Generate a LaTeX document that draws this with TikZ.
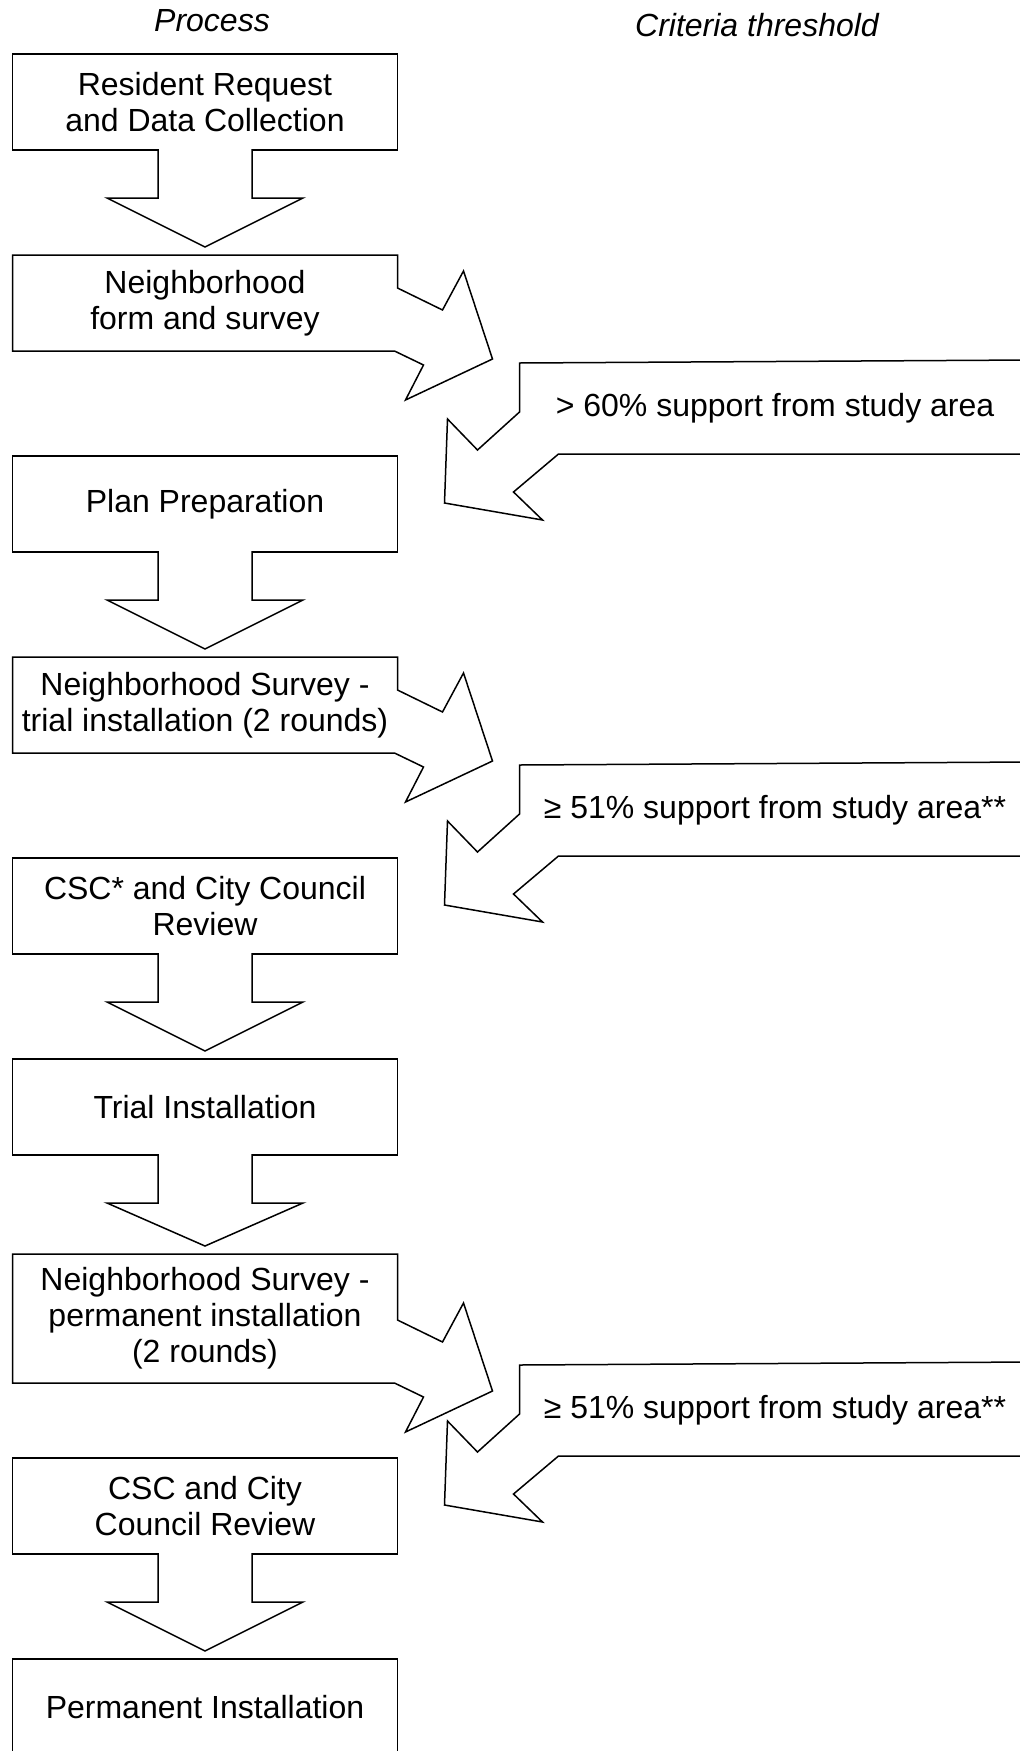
\documentclass[tikz,border=0pt]{standalone}
\usepackage{fontspec}
\setmainfont{Liberation Sans}
\usetikzlibrary{positioning,calc}

\newcommand{\boxfont}{\fontsize{32}{36}\selectfont}

\begin{document}
\begin{tikzpicture}[
            x=1pt, y=-1pt,
            node distance=105pt,
            block/.style={rectangle, draw, line width=1.5pt, minimum width=385pt, minimum height=96pt, align=center, inner sep=0pt, outer sep=0pt, font=\boxfont},
            bentblock/.style={block, draw=none},
            crit/.style={minimum width=511pt, minimum height=91pt, inner sep=0pt, outer sep=0pt, font=\boxfont},
            header/.style={anchor=base, font=\boxfont\itshape},
            outline/.style={line width=1.5pt, line join=miter},
            downarrow/.style={outline, fill=white}
        ]
            \useasboundingbox (0,0) rectangle (1020,1751);

            \node[header] (process) at (212,31) {Process};
            \node[header] (threshold) at (757,36) {Criteria threshold};

            \node[block] (request) at (205,102) {Resident Request\\and Data Collection};
            \node[bentblock, below=of request] (form) {Neighborhood\\form and survey};
            \node[block, below=of form] (plan) {Plan Preparation};
            \node[bentblock, below=of plan] (trialsurvey) {Neighborhood Survey -\\trial installation (2 rounds)};
            \node[block, below=of trialsurvey] (trialreview) {CSC* and City Council\\Review};
            \node[block, below=of trialreview] (trial) {Trial Installation};
            \node[bentblock, below=99pt of trial, minimum height=129pt] (permsurvey) {Neighborhood Survey -\\permanent installation\\(2 rounds)};
            \node[block, below=75pt of permsurvey] (permreview) {CSC and City\\Council Review};
            \node[block, below=of permreview] (permanent) {Permanent Installation};

            \node[crit, above right=2pt and 122pt of plan] (support60) {> 60\% support from study area};
            \node[crit, above right=2pt and 122pt of trialreview] (support51a) {≥ 51\% support from study area**};
            \node[crit, above right=2pt and 122pt of permreview] (support51b) {≥ 51\% support from study area**};

            % survey boxes turning into the bent arrow
            \foreach \b in {form, trialsurvey, permsurvey}
                \draw[outline] (\b.south west) -- (\b.north west) -- (\b.north east)
                    -- ($(\b.south east)+(0,-63)$) -- ($(\b.south east)+(45,-41)$)
                    -- ($(\b.south east)+(66,-80)$) -- ($(\b.south east)+(95,8)$)
                    -- ($(\b.south east)+(8,49)$) -- ($(\b.south east)+(26,14)$)
                    -- ($(\b.south east)+(-3,0)$) -- cycle;

            % threshold arrows back to the process column
            \foreach \c in {support60, support51a, support51b}
                \draw[outline] ($(\c.north east)+(0,-3)$) -- (\c.north west)
                    -- ($(\c.north west)+(0,49)$) -- ($(\c.north west)+(-42,87)$)
                    -- ($(\c.north west)+(-72,56)$) -- ($(\c.north west)+(-75,140)$)
                    -- ($(\c.north west)+(23,157)$) -- ($(\c.north west)+(-6,129)$)
                    -- ($(\c.south west)+(39,0)$) -- (\c.south east);

            \foreach \a/\z in {request/form, plan/trialsurvey, trialreview/trial, trial/permsurvey, permreview/permanent}
                \draw[downarrow] ($(\a.south)+(-47,-1)$) -- ($(\a.south)+(-47,48)$)
                    -- ($(\a.south)+(-98,48)$) -- ($(\z.north)+(0,-8)$)
                    -- ($(\a.south)+(98,48)$) -- ($(\a.south)+(47,48)$)
                    -- ($(\a.south)+(47,-1)$);
        \end{tikzpicture}
\end{document}
